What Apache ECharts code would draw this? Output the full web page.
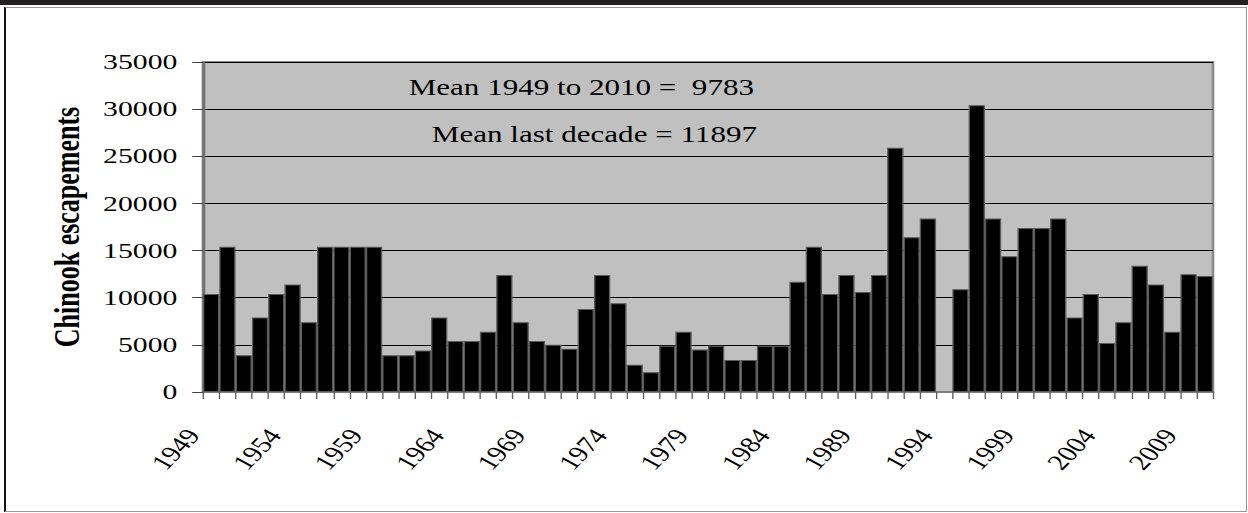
<!DOCTYPE html>
<html>
<head>
<meta charset="utf-8">
<script src="https://cdn.jsdelivr.net/npm/echarts@6/dist/echarts.min.js"></script>
<style>
  html, body { margin: 0; padding: 0; background: #fff; }
  #page { position: relative; width: 1248px; height: 513px; overflow: hidden; background: #fff; }
  #band { position: absolute; left: 0; top: 0; width: 1248px; height: 5px; background: #231f20; }
  #box { position: absolute; left: 4px; top: 7px; width: 1240px; height: 503px;
         border-left: 2px solid #111; border-top: 1px solid #999;
         border-right: 1px solid #999; border-bottom: 1px solid #999; }
  /* chart is laid out narrow and widened horizontally */
  #chart { position: absolute; left: 0; top: 0; width: 924px; height: 513px;
           transform: scaleX(1.3506); transform-origin: 0 0; }
</style>
</head>
<body>
<div id="page">
  <div id="band"></div>
  <div id="box"></div>
  <div id="chart"></div>
</div>
<script>
// Chinook escapements by year
const years = [
  '1949','1950','1951','1952','1953','1954','1955','1956','1957','1958',
  '1959','1960','1961','1962','1963','1964','1965','1966','1967','1968',
  '1969','1970','1971','1972','1973','1974','1975','1976','1977','1978',
  '1979','1980','1981','1982','1983','1984','1985','1986','1987','1988',
  '1989','1990','1991','1992','1993','1994','1995','1996','1997','1998',
  '1999','2000','2001','2002','2003','2004','2005','2006','2007','2008',
  '2009','2010'
];
const escapements = [
  10400, 15400, 3900, 7900, 10400, 11400, 7400, 15400, 15400, 15400,
  15400, 3900, 3900, 4400, 7900, 5400, 5400, 6400, 12400, 7400,
  5400, 5000, 4600, 8800, 12400, 9400, 2900, 2100, 4900, 6400,
  4500, 4900, 3400, 3400, 4900, 4900, 11700, 15400, 10400, 12400,
  10600, 12400, 25900, 16400, 18400, null, 10900, 30400, 18400, 14400,
  17400, 17400, 18400, 7900, 10400, 5200, 7400, 13400, 11400, 6400,
  12500, 12300
];
const yAxisTitle = 'Chinook escapements';
const notes = ['Mean 1949 to 2010 =  9783', 'Mean last decade = 11897'];

const SERIF = '"Liberation Serif", "Times New Roman", serif';
const K = 1.3506; // horizontal widening of the chart box

const chart = echarts.init(document.getElementById('chart'), null, { renderer: 'svg' });

chart.setOption({
  animation: false,
  backgroundColor: 'transparent',
  grid: {
    left: 150.3, right: 25.9, top: 62, bottom: 121,
    show: true, backgroundColor: '#c0c0c0',
    borderColor: '#8c8c8c', borderWidth: 2
  },
  xAxis: {
    type: 'category',
    data: years,
    boundaryGap: true,
    axisLine: { lineStyle: { color: '#808080', width: 2 } },
    axisTick: { show: true, interval: 0, length: 7, lineStyle: { color: '#606060', width: 1 } },
    axisLabel: {
      interval: 4, rotate: 53.5, margin: 22,
      // trailing spaces set the year back from its tick along the slant
      formatter: v => v + '\u00a0\u00a0\u00a0\u00a0',
      fontFamily: SERIF, fontSize: 22, color: '#000'
    },
    splitLine: { show: false }
  },
  yAxis: {
    type: 'value',
    min: 0, max: 35000, interval: 5000,
    axisLine: { show: true, lineStyle: { color: '#707070', width: 2 } },
    axisTick: { show: true, length: 8, lineStyle: { color: '#404040', width: 1 } },
    axisLabel: {
      margin: 19, fontFamily: SERIF, fontSize: 22, color: '#000',
      formatter: v => String(v)
    },
    splitLine: { show: true, lineStyle: { color: '#000', width: 1 } }
  },
  series: [{
    type: 'bar',
    data: escapements,
    barCategoryGap: '0%',
    itemStyle: { color: '#000', borderColor: '#5a5a5a', borderWidth: 1 }
  }],
  graphic: [
    {
      type: 'text', x: 50, y: 227, rotation: Math.PI / 2,
      style: {
        text: yAxisTitle, fontFamily: SERIF, fontSize: 26, fontWeight: 'bold',
        fill: '#000', textAlign: 'center', textVerticalAlign: 'middle'
      }
    },
    {
      type: 'text', x: 754 / K, y: 87,
      style: {
        text: notes[0], fontFamily: SERIF, fontSize: 23, fill: '#000',
        textAlign: 'right', textVerticalAlign: 'middle'
      }
    },
    {
      type: 'text', x: 757 / K, y: 134,
      style: {
        text: notes[1], fontFamily: SERIF, fontSize: 23, fill: '#000',
        textAlign: 'right', textVerticalAlign: 'middle'
      }
    }
  ]
});
</script>
</body>
</html>
